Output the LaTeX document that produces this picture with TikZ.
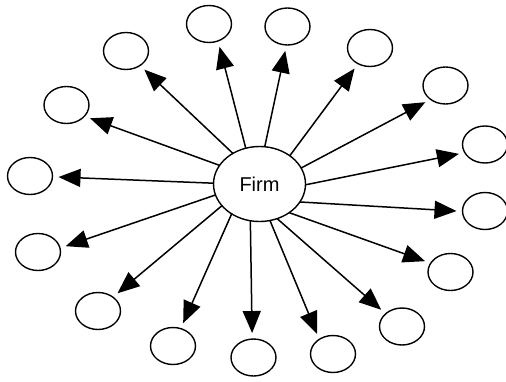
\documentclass[tikz,border=0pt]{standalone}
\usepackage{fontspec}
\setmainfont{Liberation Sans}
\usetikzlibrary{arrows.meta,shapes.geometric}
\begin{document}
\begin{tikzpicture}[x=1pt,y=-1pt,
  hub/.style={draw,ellipse,line width=1.4pt,minimum width=92pt,minimum height=75pt,inner sep=0pt,outer sep=0pt,font=\fontsize{20}{21}\selectfont},
  leaf/.style={draw,ellipse,line width=1.4pt,minimum width=45pt,minimum height=37pt,inner sep=0pt,outer sep=0pt},
  link/.style={line width=1.5pt,shorten >=6pt,-{Triangle[length=22pt,width=18pt]}}]
\useasboundingbox (0,0) rectangle (506,381);
\node[hub] (firm) at (259.5,184) {Firm};
% surrounding parties, clockwise from the top
\node[leaf] (a) at (209,24) {};
\node[leaf] (e) at (287.5,26.5) {};
\node[leaf] (f) at (370,48) {};
\node[leaf] (g) at (445.5,85.5) {};
\node[leaf] (h) at (485,144.5) {};
\node[leaf] (m) at (485,211) {};
\node[leaf] (n) at (450.5,272) {};
\node[leaf] (o) at (402,326.5) {};
\node[leaf] (p) at (333,354) {};
\node[leaf] (l) at (253.5,357.5) {};
\node[leaf] (k) at (173,346) {};
\node[leaf] (j) at (98,311) {};
\node[leaf] (i) at (38,252) {};
\node[leaf] (d) at (30,176) {};
\node[leaf] (c) at (66.5,105) {};
\node[leaf] (b) at (126,51) {};
% arrows from the firm outwards
\draw[link] (firm.111) -- (a.298);
\draw[link] (firm.82) -- (e.267);
\draw[link] (firm.43) -- (f.233);
\draw[link] (firm.21) -- (g.223);
\draw[link] (firm.359) -- (h.202);
\draw[link] (firm.336) -- (m.181);
\draw[link] (firm.316) -- (n.156);
\draw[link] (firm.297) -- (o.142);
\draw[link] (firm.286) -- (p.133);
\draw[link] (firm.256) -- (l.94);
\draw[link] (firm.227) -- (k.66);
\draw[link] (firm.210) -- (j.43);
\draw[link] (firm.194) -- (i.10);
\draw[link] (firm.179) -- (d.358);
\draw[link] (firm.155) -- (c.328);
\draw[link] (firm.131) -- (b.314);
\end{tikzpicture}
\end{document}
